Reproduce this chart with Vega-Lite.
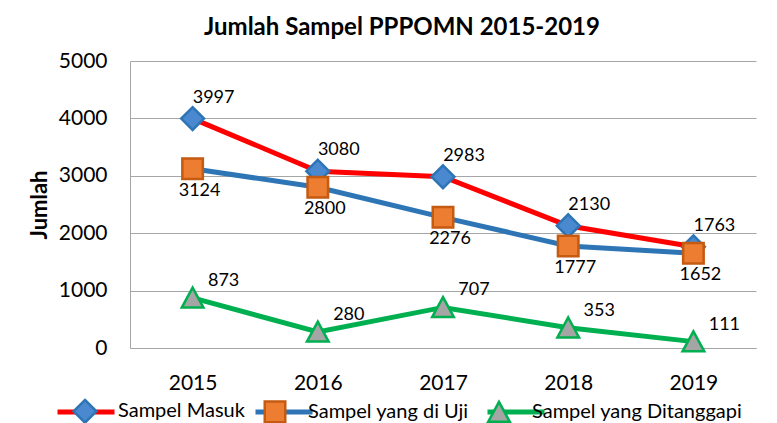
{
  "$schema": "https://vega.github.io/schema/vega-lite/v6.json",
  "width": 626,
  "height": 287,
  "autosize": {"type": "none"},
  "padding": {"left": 130, "top": 61, "right": 21, "bottom": 75},
  "background": "white",
  "title": {"text": "Jumlah Sampel PPPOMN 2015-2019", "font": "Lato", "fontSize": 24, "fontWeight": "bold", "color": "black", "anchor": "middle", "dx": -41, "offset": 10},
  "config": {"view": {"stroke": null}, "font": "Lato"},
  "data": {"values": [
    {"year": "2015", "series": "Sampel Masuk", "value": 3997},
    {"year": "2016", "series": "Sampel Masuk", "value": 3080},
    {"year": "2017", "series": "Sampel Masuk", "value": 2983},
    {"year": "2018", "series": "Sampel Masuk", "value": 2130},
    {"year": "2019", "series": "Sampel Masuk", "value": 1763},
    {"year": "2015", "series": "Sampel yang di Uji", "value": 3124},
    {"year": "2016", "series": "Sampel yang di Uji", "value": 2800},
    {"year": "2017", "series": "Sampel yang di Uji", "value": 2276},
    {"year": "2018", "series": "Sampel yang di Uji", "value": 1777},
    {"year": "2019", "series": "Sampel yang di Uji", "value": 1652},
    {"year": "2015", "series": "Sampel yang Ditanggapi", "value": 873},
    {"year": "2016", "series": "Sampel yang Ditanggapi", "value": 280},
    {"year": "2017", "series": "Sampel yang Ditanggapi", "value": 707},
    {"year": "2018", "series": "Sampel yang Ditanggapi", "value": 353},
    {"year": "2019", "series": "Sampel yang Ditanggapi", "value": 111}
  ]},
  "encoding": {
    "x": {"field": "year", "type": "ordinal", "scale": {"type": "point", "padding": 0.5},
      "axis": {"labelAngle": 0, "title": null, "ticks": false, "labelPadding": 24, "labelFontSize": 21, "labelFont": "Lato", "labelColor": "black", "domainColor": "#a6a6a6", "domainWidth": 1, "grid": false}},
    "y": {"field": "value", "type": "quantitative", "scale": {"domain": [0, 5000], "nice": false},
      "axis": {"values": [0, 1000, 2000, 3000, 4000, 5000], "format": "d", "title": "Jumlah", "titleFont": "Lato", "titleFontSize": 22, "titleFontWeight": "bold", "titleColor": "black", "titlePadding": 7, "ticks": false, "labelPadding": 23, "labelFontSize": 21, "labelFont": "Lato", "labelColor": "black", "gridColor": "#a6a6a6", "domainColor": "#a6a6a6"}}
  },
  "layer": [
    {
      "mark": {"type": "line", "strokeWidth": 5},
      "encoding": {
        "stroke": {"field": "series", "type": "nominal",
          "scale": {"domain": ["Sampel Masuk", "Sampel yang di Uji", "Sampel yang Ditanggapi"], "range": ["#ff0000", "#2e75b6", "#00b050"]},
          "legend": {"orient": "none", "legendX": -75, "legendY": 320, "direction": "horizontal", "title": null, "symbolType": "stroke", "symbolSize": 3249, "symbolStrokeWidth": 5, "labelFont": "Lato", "labelFontSize": 20, "labelOpacity": 0, "labelLimit": 400, "labelOffset": 3, "columnPadding": -2}}
      }
    },
    {
      "mark": {"type": "point", "filled": true, "size": 3249, "strokeWidth": 2.5, "opacity": 1},
      "encoding": {
        "fill": {"field": "series", "type": "nominal",
          "scale": {"domain": ["Sampel Masuk", "Sampel yang di Uji", "Sampel yang Ditanggapi"], "range": ["#4a89cf", "#ed7d31", "#a5a5a5"]},
          "legend": {"orient": "none", "legendX": -75, "legendY": 320, "direction": "horizontal", "title": null, "symbolSize": 3249, "symbolStrokeWidth": 2.5, "symbolOpacity": 1, "labelFont": "Lato", "labelFontSize": 20, "labelColor": "black", "labelLimit": 400, "labelOffset": 3, "columnPadding": -2}},
        "stroke": {"field": "series", "type": "nominal",
          "scale": {"domain": ["Sampel Masuk", "Sampel yang di Uji", "Sampel yang Ditanggapi"], "range": ["#2e75b6", "#c55a11", "#00b050"]},
          "legend": {"orient": "none", "legendX": -75, "legendY": 320, "direction": "horizontal", "title": null, "symbolSize": 3249, "symbolStrokeWidth": 2.5, "symbolOpacity": 1, "labelFont": "Lato", "labelFontSize": 20, "labelColor": "black", "labelLimit": 400, "labelOffset": 3, "columnPadding": -2}},
        "shape": {"field": "series", "type": "nominal",
          "scale": {"domain": ["Sampel Masuk", "Sampel yang di Uji", "Sampel yang Ditanggapi"], "range": ["M0,-0.4L0.4,0L0,0.4L-0.4,0Z", "M-0.36,-0.36H0.36V0.36H-0.36Z", "M0,-0.36L0.38,0.34H-0.38Z"]},
          "legend": {"orient": "none", "legendX": -75, "legendY": 320, "direction": "horizontal", "title": null, "symbolSize": 3249, "symbolStrokeWidth": 2.5, "symbolOpacity": 1, "labelFont": "Lato", "labelFontSize": 20, "labelColor": "black", "labelLimit": 400, "labelOffset": 3, "columnPadding": -2}}
      }
    },
    {
      "transform": [{"filter": "datum.series == 'Sampel Masuk'"}],
      "mark": {"type": "text", "font": "Lato", "fontSize": 18, "color": "black", "dx": 21, "dy": -21},
      "encoding": {"text": {"field": "value", "type": "quantitative", "format": "d"}}
    },
    {
      "transform": [{"filter": "datum.series == 'Sampel yang di Uji'"}],
      "mark": {"type": "text", "font": "Lato", "fontSize": 18, "color": "black", "dx": 7, "dy": 22},
      "encoding": {"text": {"field": "value", "type": "quantitative", "format": "d"}}
    },
    {
      "transform": [{"filter": "datum.series == 'Sampel yang Ditanggapi'"}],
      "mark": {"type": "text", "font": "Lato", "fontSize": 18, "color": "black", "dx": 31, "dy": -17},
      "encoding": {"text": {"field": "value", "type": "quantitative", "format": "d"}}
    }
  ],
  "resolve": {"scale": {"stroke": "independent"}, "legend": {"stroke": "independent", "fill": "independent", "shape": "independent"}}
}
